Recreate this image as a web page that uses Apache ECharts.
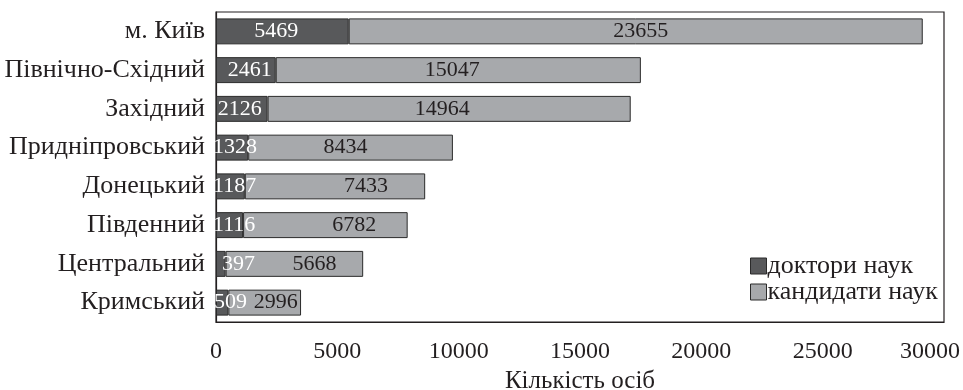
<!DOCTYPE html>
<html lang="uk">
<head>
  <meta charset="UTF-8">
  <title>Кількість осіб</title>
  <script src="https://cdn.jsdelivr.net/npm/echarts@6/dist/echarts.min.js"></script>
</head>
<body style="margin:0">
  <div id="main" style="width: 963px;height:390px;"></div>
  <script>
    const regions = ['м. Київ', 'Північно-Східний', 'Західний', 'Придніпровський', 'Донецький', 'Південний', 'Центральний', 'Кримський'];
    const doctors = [5469, 2461, 2126, 1328, 1187, 1116, 397, 509];
    const candidates = [23655, 15047, 14964, 8434, 7433, 6782, 5668, 2996];
    const xTicks = [0, 5000, 10000, 15000, 20000, 25000, 30000];

    // зсув підписів, щоб не налазили один на одного
    const docPos = ['inside', 'inside', 'inside', 'insideLeft', 'insideLeft', 'insideLeft', 'insideLeft', 'insideLeft'];
    const docShift = [-6, 4, -2, -4, -4, -4, 5, -3];
    const candShift = [5, -6, -7, -5, 31, 29, 20, 11];

    const font = 'Liberation Serif';
    var myChart = echarts.init(document.getElementById('main'));

    const option = {
      textStyle: { fontFamily: font },
      legend: {
        orient: 'vertical',
        left: 745,
        top: 248,
        icon: 'rect',
        itemWidth: 16,
        itemHeight: 16,
        itemGap: 0,
        itemStyle: { borderColor: '#2b2b2b', borderWidth: 1 },
        textStyle: { fontFamily: font, fontSize: 26, lineHeight: 26, color: '#231f20', padding: [0, 0, 0, -4] },
        data: ['доктори наук', 'кандидати наук']
      },
      grid: {
        left: 216, right: 19, top: 12, bottom: 68,
        containLabel: false, outerBoundsMode: 'none',
        show: true, borderColor: '#231f20', borderWidth: 1.2
      },
      xAxis: {
        type: 'value',
        min: 0,
        max: 30000,
        interval: 5000,
        name: 'Кількість осіб',
        nameLocation: 'middle',
        nameGap: 44,
        nameTextStyle: { fontFamily: font, fontSize: 25, color: '#231f20' },
        axisLine: { show: true, lineStyle: { color: '#231f20' } },
        axisTick: { show: false },
        splitLine: { show: false },
        axisLabel: {
          fontFamily: font, fontSize: 24, color: '#231f20', margin: 18,
          formatter: v => {
            if (!xTicks.includes(v)) return '';
            return v === xTicks[xTicks.length - 1] ? '{last|' + v + '}' : String(v);
          },
          rich: { last: { fontFamily: font, fontSize: 24, color: '#231f20', padding: [0, 28, 0, 0] } }
        }
      },
      yAxis: {
        type: 'category',
        inverse: true,
        data: regions,
        axisLine: { show: true, lineStyle: { color: '#231f20', width: 1.2 } },
        axisTick: { show: false },
        axisLabel: { fontFamily: font, fontSize: 26, color: '#231f20', margin: 11 }
      },
      series: [
        {
          name: 'доктори наук',
          type: 'bar',
          stack: 'all',
          barCategoryGap: '33%',
          itemStyle: { color: '#58595b', borderColor: '#2b2b2b', borderWidth: 1 },
          data: doctors.map((v, i) => ({
            value: v,
            label: { position: docPos[i], offset: [docShift[i], 0] }
          })),
          label: { show: true, fontFamily: font, fontSize: 22, color: '#ffffff', distance: 1 }
        },
        {
          name: 'кандидати наук',
          type: 'bar',
          stack: 'all',
          itemStyle: { color: '#a7a9ac', borderColor: '#2b2b2b', borderWidth: 1 },
          data: candidates.map((v, i) => ({
            value: v,
            label: { offset: [candShift[i], 0] }
          })),
          label: { show: true, position: 'inside', fontFamily: font, fontSize: 22, color: '#231f20' }
        }
      ]
    };

    myChart.setOption(option);
  </script>
</body>
</html>
